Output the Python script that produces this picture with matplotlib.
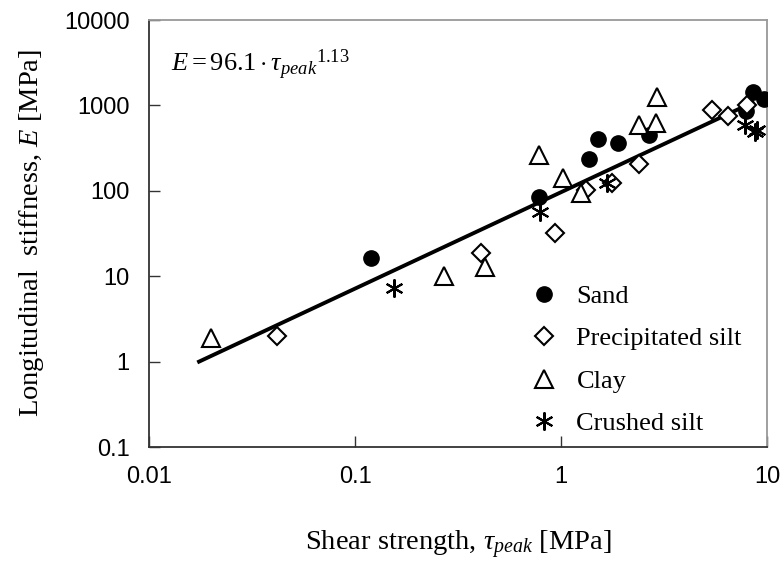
import matplotlib
matplotlib.use('Agg')
import matplotlib.pyplot as plt
from matplotlib.ticker import FixedLocator, FixedFormatter, NullLocator

plt.rcParams['mathtext.fontset'] = 'custom'
plt.rcParams['mathtext.rm'] = 'Liberation Serif'
plt.rcParams['mathtext.it'] = 'Liberation Serif:italic'

# data (shear strength [MPa], stiffness [MPa])
sand_tau = [0.12, 0.78, 1.37, 1.51, 1.89, 2.67, 7.9, 8.55, 9.66]
sand_E = [16.5, 85, 236, 404, 363, 450, 860, 1435, 1190]

silt_tau = [0.042, 0.41, 0.935, 1.32, 1.77, 2.39, 5.41, 6.47, 8.0]
silt_E = [2.0, 18.5, 32, 102, 123, 206, 883, 752, 1000]

clay_tau = [0.02, 0.27, 0.428, 0.78, 1.02, 1.25, 2.39, 2.89, 2.92]
clay_E = [1.9, 10, 12.8, 260, 140, 94, 590, 622, 1255]

crushed_tau = [0.155, 0.79, 1.67, 7.8, 8.75, 8.9]
crushed_E = [7.2, 56.5, 123, 590, 489, 520]

fit_tau = [0.0175, 8.5]
fit_E = [1.0, 1080]

xticks = [0.01, 0.1, 1, 10]
xtick_labels = ['0.01', '0.1', '1', '10']
yticks = [0.1, 1, 10, 100, 1000, 10000]
ytick_labels = ['0.1', '1', '10', '100', '1000', '10000']

fig = plt.figure(figsize=(7.82, 5.65), dpi=100)
ax = fig.add_axes([0.1905, 0.2088, 0.7905, 0.7558])

ax.plot(fit_tau, fit_E, color='black', lw=2.8, zorder=2)
ax.plot(sand_tau, sand_E, 'o', ms=11, color='black', label='Sand', zorder=3)
ax.plot(silt_tau, silt_E, 'D', ms=9, mfc='white', mec='black', mew=1.5,
        label='Precipitated silt', zorder=3)
ax.plot(clay_tau, clay_E, '^', ms=12.5, mfc='white', mec='black', mew=1.5,
        label='Clay', zorder=3)
ax.plot(crushed_tau, crushed_E, marker=(6, 2, 0), ls='none', ms=13, mec='black',
        mew=1.5, label='Crushed silt', zorder=3)

ax.set_xscale('log')
ax.set_yscale('log')
ax.set_xlim(0.01, 10)
ax.set_ylim(0.1, 10000)
ax.xaxis.set_major_locator(FixedLocator(xticks))
ax.xaxis.set_major_formatter(FixedFormatter(xtick_labels))
ax.yaxis.set_major_locator(FixedLocator(yticks))
ax.yaxis.set_major_formatter(FixedFormatter(ytick_labels))
ax.xaxis.set_minor_locator(NullLocator())
ax.yaxis.set_minor_locator(NullLocator())
ax.tick_params(direction='in', length=8, width=1, labelsize=17, pad=14,
               colors='#333333', labelcolor='black')
for lab in ax.get_xticklabels() + ax.get_yticklabels():
    lab.set_fontfamily('Liberation Sans')

ax.spines['left'].set_color('#333333')
ax.spines['bottom'].set_color('#333333')
ax.spines['top'].set_color('#999999')
ax.spines['right'].set_color('#999999')
for s in ax.spines.values():
    s.set_linewidth(1.3)

ax.set_xlabel(r'Shear strength, $\tau_{peak}$ [MPa]', fontsize=20.5,
              fontfamily='Liberation Serif', labelpad=29)
ax.set_ylabel(r'Longitudinal  stiffness, $E$ [MPa]', fontsize=20.5,
              fontfamily='Liberation Serif', labelpad=13)

ax.text(0.035, 0.895, r'$E = 96.1\cdot\tau_{peak}{}^{1.13}$', transform=ax.transAxes,
        fontsize=19, fontfamily='Liberation Serif', va='center')

leg = ax.legend(loc='lower left', bbox_to_anchor=(0.587, -0.016), frameon=False,
                prop={'family': 'Liberation Serif', 'size': 19}, handletextpad=0.75,
                labelspacing=0.72, handlelength=1.0, borderaxespad=0.3)

fig.savefig('out.png', dpi=100)
